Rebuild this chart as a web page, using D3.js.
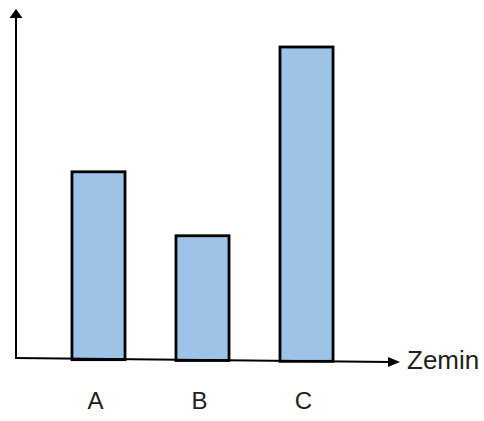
<!DOCTYPE html>
<html>
<head>
<meta charset="utf-8">
<script src="https://cdn.jsdelivr.net/npm/d3@7"></script>
<style>
  body { margin: 0; background: #fff; }
  text { font-family: "Liberation Sans", Arial, sans-serif; fill: #231f20; }
</style>
</head>
<body>
<svg class="bar-chart" width="484" height="421"></svg>
<script>
// data
var categories = ['A', 'B', 'C'];
var values = [6, 3.95, 10];
var axisLabel = 'Zemin';

var svg = d3.select('svg.bar-chart');

// origin of the hand-drawn axes, x axis drops a little to the right
var origin = {x: 16, y: 359};
var xEnd = {x: 390, y: 362};
var baseline = d3.scaleLinear().domain([origin.x, xEnd.x]).range([origin.y, xEnd.y]);

// scales
var xScale = d3.scaleBand()
  .domain(categories)
  .range([21, 384])
  .paddingInner(0.49)
  .paddingOuter(0.49);

var yScale = d3.scaleLinear()
  .domain([0, 10])
  .range([origin.y, 47]);

// bars
svg.selectAll('rect.bar')
  .data(categories)
  .enter()
  .append('rect')
  .attr('class', 'bar')
  .attr('x', function(d) { return xScale(d); })
  .attr('y', function(d, i) { return yScale(values[i]); })
  .attr('width', xScale.bandwidth())
  .attr('height', function(d, i) {
    return baseline(xScale(d) + xScale.bandwidth() / 2) - yScale(values[i]);
  })
  .attr('fill', '#9dc3e6')
  .attr('stroke', '#000')
  .attr('stroke-width', 2.8);

// y axis with arrow
svg.append('line')
  .attr('x1', origin.x).attr('y1', origin.y)
  .attr('x2', origin.x).attr('y2', 16)
  .attr('stroke', '#000')
  .attr('stroke-width', 2);
svg.append('path')
  .attr('d', d3.line()([[origin.x, 9], [origin.x - 6.5, 18], [origin.x + 6.5, 18]]) + 'Z')
  .attr('fill', '#000');

// x axis with arrow
svg.append('line')
  .attr('x1', origin.x - 1).attr('y1', origin.y - 1)
  .attr('x2', xEnd.x).attr('y2', xEnd.y)
  .attr('stroke', '#000')
  .attr('stroke-width', 2);
svg.append('path')
  .attr('d', d3.line()([[400, 362], [388, 357], [388, 367]]) + 'Z')
  .attr('fill', '#000');

svg.append('text')
  .attr('x', 407)
  .attr('y', 369)
  .attr('font-size', 26)
  .text(axisLabel);

// category labels
svg.selectAll('text.cat')
  .data(categories)
  .enter()
  .append('text')
  .attr('class', 'cat')
  .attr('x', function(d) { return xScale(d) + xScale.bandwidth() / 2 - 3; })
  .attr('y', 409)
  .attr('text-anchor', 'middle')
  .attr('font-size', 24)
  .text(function(d) { return d; });
</script>
</body>
</html>
